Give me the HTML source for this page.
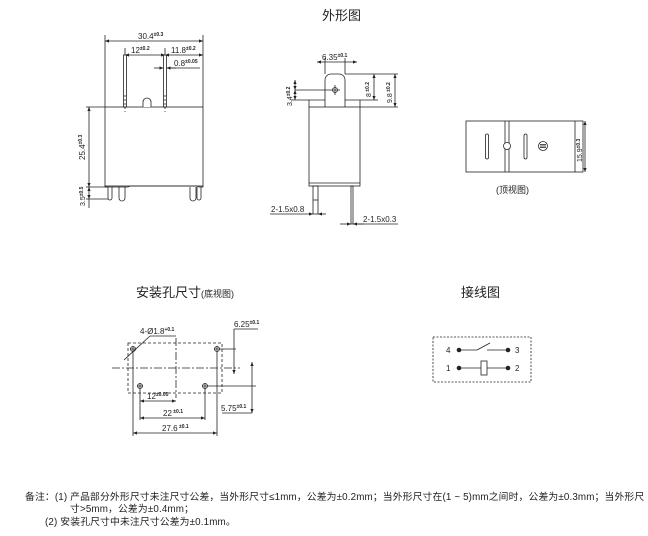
<!DOCTYPE html>
<html><head><meta charset="utf-8"><style>
html,body{margin:0;padding:0;background:#fff;}
svg{display:block;}
text{font-family:"Liberation Sans","Noto Sans CJK SC",sans-serif;fill:#222;}
.s{font-size:8px;}
.e{font-size:5px;font-weight:bold;}
.n{font-size:9.8px;letter-spacing:0.15px;}
</style></head><body>
<svg width="648" height="536" viewBox="0 0 648 536" xmlns="http://www.w3.org/2000/svg">
<defs>
<marker id="a" viewBox="0 0 10 10" refX="10" refY="5" markerWidth="5" markerHeight="5" orient="auto-start-reverse"><path d="M0,1 L10,5 L0,9z" fill="#222"/></marker>
</defs>
<g stroke="#222" stroke-width="0.8" fill="none">
<rect x="105" y="107" width="98" height="79"/>
<path d="M143,107 v-5 a4,4 0 0 1 8,0 v5" fill="#fff"/>
<rect x="123.5" y="55" width="3" height="52"/>
<rect x="163.5" y="55" width="3" height="52"/>
<line x1="125" y1="95" x2="125" y2="112" stroke-dasharray="2,2"/>
<line x1="165" y1="95" x2="165" y2="112" stroke-dasharray="2,2"/>
<path d="M105,186 v1 h23 l2,-1 h67 l2,1 h4 v-1"/>
<path d="M108,187 v11 a2,2 0 0 0 4,0 v-11"/>
<path d="M119,187 v11 a2,2 0 0 0 6,0 v-11"/>
<path d="M190,187 v11 a2,2 0 0 0 6,0 v-11"/>
<path d="M197,187 v11 a2,2 0 0 0 4,0 v-11"/>
<line x1="105" y1="107" x2="105" y2="35"/>
<line x1="203" y1="107" x2="203" y2="35"/>
<line x1="105" y1="41" x2="203" y2="41" marker-start="url(#a)" marker-end="url(#a)"/>
<line x1="125" y1="55" x2="165" y2="55" marker-start="url(#a)" marker-end="url(#a)"/>
<line x1="165" y1="55" x2="203" y2="55" marker-start="url(#a)" marker-end="url(#a)"/>
<line x1="125" y1="55" x2="125" y2="48"/>
<line x1="165" y1="48" x2="165" y2="55"/>
<line x1="154" y1="68" x2="163.5" y2="68" marker-end="url(#a)"/>
<line x1="176" y1="68" x2="166.5" y2="68" marker-end="url(#a)"/>
<line x1="166" y1="68" x2="200" y2="68"/>
<line x1="86" y1="107" x2="105" y2="107"/>
<line x1="86" y1="187" x2="108" y2="187"/>
<line x1="86" y1="199" x2="108" y2="199"/>
<line x1="89" y1="107" x2="89" y2="187" marker-start="url(#a)" marker-end="url(#a)"/>
<line x1="89" y1="187" x2="89" y2="199" marker-start="url(#a)" marker-end="url(#a)"/>
<line x1="89" y1="199" x2="89" y2="208"/>
<path d="M309,107 v-7 h16 v-20 a6,6 0 0 1 6,-6 h8 a6,6 0 0 1 6,6 v20 h15 v7"/>
<line x1="325" y1="100" x2="325" y2="107"/><line x1="345" y1="100" x2="345" y2="107"/>
<rect x="309" y="107" width="51" height="79"/>
<line x1="309" y1="183" x2="360" y2="183"/>
<rect x="313" y="186" width="5" height="28"/>
<line x1="313" y1="200" x2="318" y2="200"/>
<rect x="351" y="186" width="2" height="38"/>
<circle cx="335" cy="90" r="2.5"/>
<line x1="295" y1="90" x2="340" y2="90"/>
<line x1="335" y1="85" x2="335" y2="95"/>
<line x1="317" y1="62" x2="357" y2="62" marker-start="url(#a)" marker-end="url(#a)"/>
<line x1="325" y1="58" x2="325" y2="74"/><line x1="345" y1="58" x2="345" y2="74"/>
<line x1="295" y1="80" x2="295" y2="90" marker-start="url(#a)" marker-end="url(#a)"/>
<line x1="295" y1="90" x2="295" y2="100" marker-start="url(#a)" marker-end="url(#a)"/>
<line x1="291" y1="100" x2="309" y2="100"/>
<line x1="345" y1="74" x2="398" y2="74"/>
<line x1="360" y1="107" x2="398" y2="107"/>
<line x1="374" y1="74" x2="374" y2="100" marker-start="url(#a)" marker-end="url(#a)"/>
<line x1="360" y1="100" x2="378" y2="100"/>
<line x1="395" y1="74" x2="395" y2="107" marker-start="url(#a)" marker-end="url(#a)"/>
<line x1="270" y1="214" x2="313" y2="214" marker-end="url(#a)"/>
<line x1="326" y1="214" x2="318" y2="214" marker-end="url(#a)"/>
<line x1="340" y1="224" x2="351" y2="224" marker-end="url(#a)"/>
<line x1="364" y1="224" x2="353" y2="224" marker-end="url(#a)"/>
<line x1="353" y1="224" x2="398" y2="224"/>
<rect x="466" y="121" width="117" height="51"/>
<line x1="505" y1="121" x2="505" y2="172"/><line x1="509" y1="121" x2="509" y2="172"/>
<line x1="575" y1="121" x2="575" y2="172"/>
<circle cx="507" cy="146" r="3.5" fill="#fff"/>
<rect x="485.5" y="134" width="3" height="25" rx="1.5"/>
<rect x="524" y="134" width="3" height="25" rx="1.5"/>
<circle cx="543" cy="146" r="4.5"/>
<line x1="540" y1="144.5" x2="546" y2="144.5"/><line x1="540" y1="146" x2="546" y2="146"/><line x1="540" y1="147.5" x2="546" y2="147.5"/>
<line x1="585" y1="121" x2="585" y2="172" marker-start="url(#a)" marker-end="url(#a)"/>
<rect x="128" y="343" width="94" height="50" stroke-dasharray="3,2"/>
<line x1="112" y1="368" x2="240" y2="368" stroke-dasharray="8,2,2,2"/>
<line x1="176" y1="338" x2="176" y2="398" stroke-dasharray="8,2,2,2"/>
<circle cx="133" cy="349" r="2.5"/><line x1="130" y1="349" x2="136" y2="349"/><line x1="133" y1="346" x2="133" y2="352"/>
<circle cx="217" cy="349" r="2.5"/><line x1="214" y1="349" x2="236" y2="349"/><line x1="217" y1="346" x2="217" y2="352"/>
<circle cx="140" cy="386" r="2.5"/><line x1="137" y1="386" x2="143" y2="386"/><line x1="140" y1="383" x2="140" y2="420"/>
<circle cx="205" cy="386" r="2.5"/><line x1="202" y1="386" x2="256" y2="386"/><line x1="205" y1="383" x2="205" y2="420"/>
<line x1="133" y1="352" x2="133" y2="436"/><line x1="217" y1="352" x2="217" y2="436"/>
<line x1="140" y1="401" x2="176" y2="401" marker-start="url(#a)" marker-end="url(#a)"/>
<line x1="140" y1="418" x2="205" y2="418" marker-start="url(#a)" marker-end="url(#a)"/>
<line x1="133" y1="433" x2="217" y2="433" marker-start="url(#a)" marker-end="url(#a)"/>
<line x1="124" y1="360" x2="150" y2="336"/><line x1="150" y1="336" x2="176" y2="336"/>
<line x1="234" y1="329" x2="234" y2="374" marker-end="url(#a)"/>
<line x1="234" y1="329" x2="258" y2="329"/>
<line x1="252" y1="362" x2="252" y2="413" marker-start="url(#a)" marker-end="url(#a)"/>
<line x1="222" y1="413" x2="252" y2="413"/>
<rect x="433" y="337" width="98" height="45" stroke-dasharray="2,1.5"/>
<line x1="459" y1="350" x2="477" y2="350"/>
<line x1="477" y1="350" x2="490" y2="343"/>
<line x1="487" y1="350" x2="508" y2="350"/>
<line x1="459" y1="368" x2="481" y2="368"/><line x1="487" y1="368" x2="508" y2="368"/>
<rect x="481" y="361" width="6" height="14"/>
</g>
<g fill="#222">
<circle cx="459" cy="350" r="2.3"/><circle cx="508" cy="350" r="2.3"/>
<circle cx="459" cy="368" r="2.3"/><circle cx="508" cy="368" r="2.3"/>
</g>
<text x="322" y="20" style="font-size:13px;">外形图</text>
<text x="138" y="39" class="s">30.4<tspan class="e" dy="-3">±0.3</tspan></text>
<text x="131" y="53" class="s">12<tspan class="e" dy="-3">±0.2</tspan></text>
<text x="171" y="53" class="s">11.8<tspan class="e" dy="-3">±0.2</tspan></text>
<text x="174" y="66" class="s">0.8<tspan class="e" dy="-3">±0.05</tspan></text>
<text transform="translate(85,160) rotate(-90)" class="s">25.4<tspan class="e" dy="-3">±0.3</tspan></text>
<text transform="translate(85,206) rotate(-90)" style="font-size:7px;">3.5<tspan class="e" dy="-2">±0.5</tspan></text>
<text x="322" y="60" class="s">6.35<tspan class="e" dy="-3">±0.1</tspan></text>
<text transform="translate(292,106) rotate(-90)" style="font-size:7px;">3.4<tspan class="e" dy="-2">±0.2</tspan></text>
<text transform="translate(371,97) rotate(-90)" style="font-size:7px;">8<tspan class="e" dy="-2"> ±0.2</tspan></text>
<text transform="translate(392,103) rotate(-90)" style="font-size:7px;">9.8<tspan class="e" dy="-2"> ±0.2</tspan></text>
<text x="271" y="212" class="s">2-1.5x0.8</text>
<text x="363" y="222" class="s">2-1.5x0.3</text>
<text transform="translate(582,162) rotate(-90)" style="font-size:7px;">15.9<tspan class="e" dy="-2">±0.3</tspan></text>
<text x="496" y="193" style="font-size:9px;">(顶视图)</text>
<text x="136" y="297" style="font-size:13px;">安装孔尺寸<tspan style="font-size:9px;">(底视图)</tspan></text>
<text x="140" y="334" class="s">4-Ø1.8<tspan class="e" dy="-3">+0.1</tspan></text>
<text x="234" y="327" class="s">6.25<tspan class="e" dy="-3">±0.1</tspan></text>
<text x="147" y="399" class="s">12<tspan class="e" dy="-3">±0.05</tspan></text>
<text x="163" y="416" class="s">22<tspan class="e" dy="-3"> ±0.1</tspan></text>
<text x="162" y="431" class="s">27.6<tspan class="e" dy="-3"> ±0.1</tspan></text>
<text x="221" y="411" class="s">5.75<tspan class="e" dy="-3">±0.1</tspan></text>
<text x="461" y="297" style="font-size:13px;">接线图</text>
<text x="446" y="353" style="font-size:8px;">4</text>
<text x="515" y="353" style="font-size:8px;">3</text>
<text x="446" y="371" style="font-size:8px;">1</text>
<text x="515" y="371" style="font-size:8px;">2</text>
<text x="25" y="500" class="n">备注：(1)  产品部分外形尺寸未注尺寸公差，当外形尺寸≤1mm，公差为±0.2mm；当外形尺寸在(1 ~ 5)mm之间时，公差为±0.3mm；当外形尺</text>
<text x="70" y="512" class="n">寸&gt;5mm，公差为±0.4mm；</text>
<text x="45" y="525" class="n">(2)  安装孔尺寸中未注尺寸公差为±0.1mm。</text>
</svg>
</body></html>
